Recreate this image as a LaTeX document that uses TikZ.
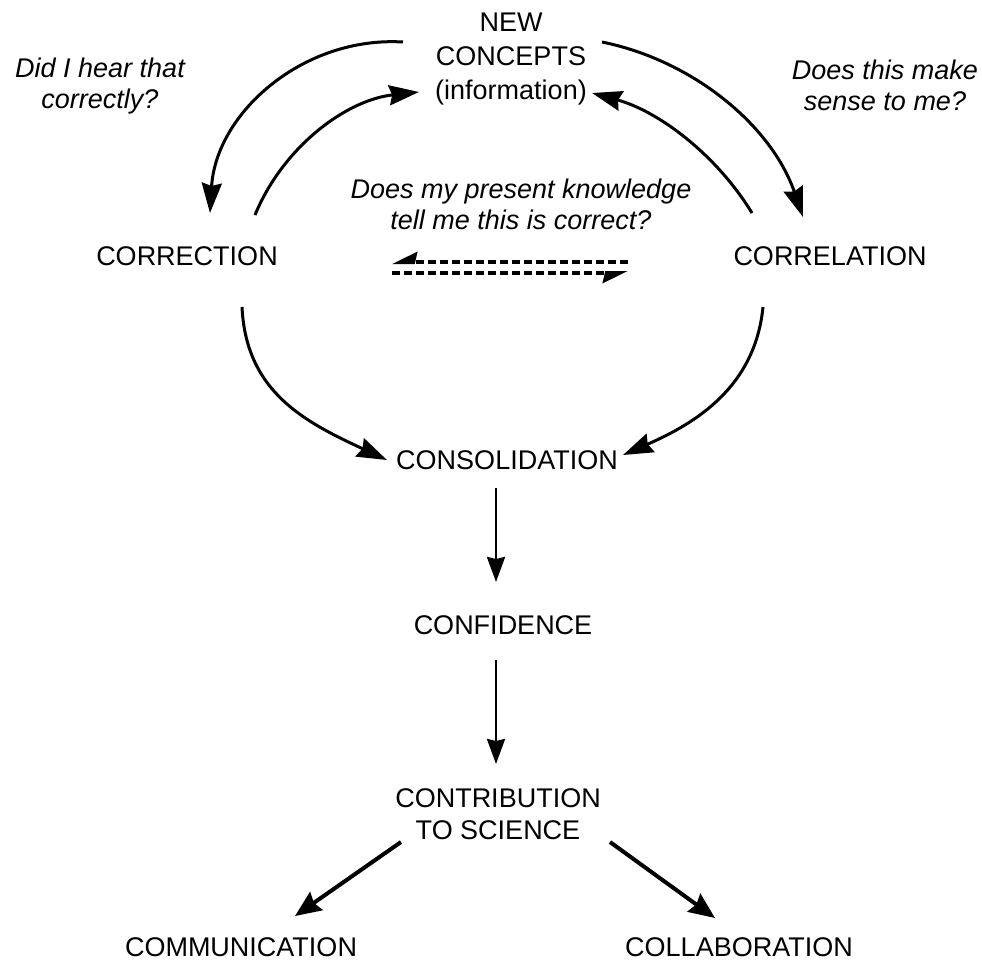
\documentclass[tikz,border=0pt]{standalone}
\usepackage{fontspec}
\setmainfont{Liberation Sans}
\usetikzlibrary{arrows.meta,calc}
\begin{document}
\begin{tikzpicture}[x=1pt,y=-1pt,
  lbl/.style={inner sep=0pt,outer sep=0pt,align=center,font=\fontsize{27}{32}\selectfont},
  qst/.style={lbl,font=\fontsize{27}{31}\selectfont\itshape},
  arcarrow/.style={line width=3pt,-{Stealth[length=30pt,width=20pt,inset=3pt]}},
  vertarrow/.style={line width=2.4pt,-{Stealth[length=25pt,width=18pt,inset=2pt]}},
  diagarrow/.style={line width=4pt,-{Stealth[length=26pt,width=22pt,inset=3pt]}},
  dashline/.style={line width=4pt,dash pattern=on 8pt off 4pt}
]
\fill[white] (0,0) rectangle (982,961);
\useasboundingbox (0,0) rectangle (982,961);

% nodes
\node[lbl,anchor=north,font=\fontsize{27}{34}\selectfont] (newc) at (511,13) {NEW\\CONCEPTS\\(information)};
\node[qst,anchor=north] (q1) at (100,58) {Did I hear that\\correctly?};
\node[qst,anchor=north] (q2) at (885,60) {Does this make\\sense to me?};
\node[qst,anchor=north] (q3) at (521,179) {Does my present knowledge\\tell me this is correct?};
\node[lbl] (corr) at (187,256) {CORRECTION};
\node[lbl] (correl) at (830,256) {CORRELATION};
\node[lbl] (consol) at (507,460) {CONSOLIDATION};
\node[lbl] (conf) at (503,625) {CONFIDENCE};
\node[lbl,anchor=north] (contrib) at (498,789) {CONTRIBUTION\\TO SCIENCE};
\node[lbl] (comm) at (241,947) {COMMUNICATION};
\node[lbl] (collab) at (739,947) {COLLABORATION};

% upper loop
\draw[arcarrow] ($(newc.north)+(-108,29)$) .. controls (303,36) and (216,113) .. ($(corr)+(23,-43)$);
\draw[arcarrow] ($(corr)+(68,-41)$) .. controls (283,147) and (346,100) .. ($(newc.north)+(-92,79)$);
\draw[arcarrow] ($(newc.north)+(91,29)$) .. controls (695,61) and (772,127) .. ($(correl)+(-27,-39)$);
\draw[arcarrow] ($(correl)+(-78,-43)$) .. controls (716,154) and (658,111) .. ($(newc.north)+(81,80)$);

% lower loop
\draw[arcarrow] ($(corr)+(55,51)$) .. controls (246,392) and (305,422) .. ($(consol)+(-120,0)$);
\draw[arcarrow] ($(correl)+(-67,51)$) .. controls (755,387) and (696,423) .. ($(consol)+(116,-5)$);

% dashed double harpoon
\coordinate (dA) at (392,262);
\coordinate (dB) at (628,262);
\coordinate (dC) at (392,273);
\coordinate (dD) at (628,273);
\draw[dashline,-{Stealth[harpoon,swap,length=21pt,width=20pt,inset=2pt]}] (dB) -- (dA);
\draw[dashline,-{Stealth[harpoon,swap,length=21pt,width=20pt,inset=2pt]}] (dC) -- (dD);

% chain
\draw[vertarrow] ($(consol)+(-11,28)$) -- ($(conf)+(-7,-43)$);
\draw[vertarrow] ($(conf)+(-7,35)$) -- ($(contrib.north)+(-2,-25)$);
\draw[diagarrow] ($(contrib.north)+(-97,53)$) -- ($(comm)+(54,-31)$);
\draw[diagarrow] ($(contrib.north)+(112,53)$) -- ($(collab)+(-24,-29)$);
\end{tikzpicture}
\end{document}
